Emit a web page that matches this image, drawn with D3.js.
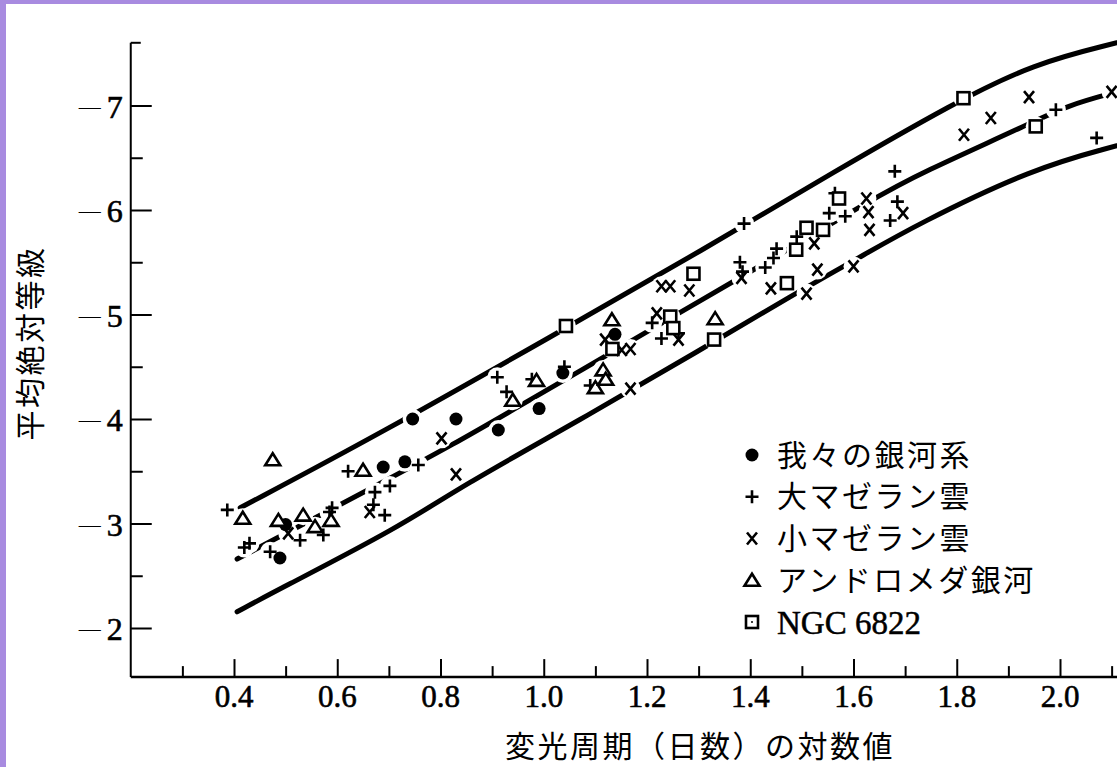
<!DOCTYPE html>
<html>
<head>
<meta charset="utf-8">
<script src="https://cdn.jsdelivr.net/npm/d3@7"></script>
<style>
  html, body { margin: 0; padding: 0; background: #fff; }
  svg { display: block; }
</style>
</head>
<body>
<div id="chart"></div>
<script>
// 변광성 주기-광도 관계 (ケフェイド)

// 축 눈금
const xMajorTicks = [0.4, 0.6, 0.8, 1.0, 1.2, 1.4, 1.6, 1.8, 2.0];
const xMinorTicks = [0.3, 0.5, 0.7, 0.9, 1.1, 1.3, 1.5, 1.7, 1.9, 2.1];
const yMajorTicks = [-2, -3, -4, -5, -6, -7];
const yMinorTicks = [-2.5, -3.5, -4.5, -5.5, -6.5];

// 관측점 [log P, M]
const milkyWay = [[0.489, -2.67], [0.50, -2.99], [0.689, -3.54], [0.731, -3.59], [0.746, -4.0],
    [0.830, -4.0], [0.912, -3.895], [0.991, -4.10], [1.037, -4.44], [1.138, -4.81]];

const lmc = [[0.387, -3.13], [0.42, -2.77], [0.43, -2.81], [0.47, -2.73], [0.528, -2.84],
    [0.573, -2.89], [0.585, -3.11], [0.59, -3.15], [0.621, -3.50], [0.670, -3.18],
    [0.673, -3.30], [0.692, -3.08], [0.702, -3.36], [0.757, -3.56], [0.910, -4.40],
    [0.928, -4.26], [0.977, -4.38], [1.04, -4.50], [1.09, -4.32], [1.21, -4.92],
    [1.228, -4.77], [1.261, -4.82], [1.38, -5.50], [1.385, -5.41], [1.388, -5.87],
    [1.429, -5.45], [1.445, -5.54], [1.451, -5.63], [1.49, -5.745], [1.553, -5.97],
    [1.564, -6.16], [1.584, -5.94], [1.671, -5.90], [1.68, -6.37], [1.685, -6.08],
    [1.992, -6.96], [2.071, -6.69]];

const smc = [[0.505, -2.906], [0.663, -3.11], [0.802, -3.815], [0.830, -3.47], [1.119, -4.76],
    [1.151, -4.66], [1.168, -4.67], [1.168, -4.29], [1.219, -5.01], [1.228, -5.27],
    [1.245, -5.27], [1.261, -4.76], [1.282, -5.23], [1.383, -5.35], [1.44, -5.25],
    [1.509, -5.20], [1.524, -5.68], [1.53, -5.43], [1.60, -5.46], [1.625, -6.11],
    [1.629, -5.98], [1.631, -5.81], [1.696, -5.97], [1.814, -6.72], [1.866, -6.88],
    [1.94, -7.08], [2.10, -7.13]];

const andromeda = [[0.417, -3.05], [0.475, -3.61], [0.486, -3.03], [0.534, -3.08], [0.557, -2.97],
    [0.588, -3.03], [0.650, -3.51], [0.940, -4.18], [0.986, -4.37], [1.10, -4.30],
    [1.115, -4.47], [1.12, -4.38], [1.132, -4.95], [1.332, -4.96]];

const ngc6822 = [[1.043, -4.89], [1.133, -4.67], [1.245, -4.98], [1.251, -4.87], [1.29, -5.39],
    [1.33, -4.76], [1.471, -5.30], [1.489, -5.62], [1.509, -5.83], [1.541, -5.81],
    [1.572, -6.11], [1.813, -7.07], [1.953, -6.80]];

// 관계 곡선 (위 / 가운데 / 아래)
const upperCurve = [[0.412, -3.15], [0.683, -3.86], [1.018, -4.80], [1.309, -5.62], [1.567, -6.38],
    [1.793, -7.02], [1.948, -7.40], [2.11, -7.60]];
const middleCurve = [[0.406, -2.66], [0.709, -3.45], [0.822, -3.75], [0.941, -4.09], [1.064, -4.44],
    [1.27, -5.04], [1.367, -5.31], [1.645, -6.13], [1.729, -6.35], [1.935, -6.81],
    [2.013, -7.0], [2.11, -7.13]];
const lowerCurve = [[0.406, -2.155], [0.483, -2.36], [0.722, -2.97], [0.838, -3.35], [1.070, -3.99],
    [1.303, -4.66], [1.483, -5.19], [1.613, -5.55], [1.722, -5.86], [1.948, -6.40], [2.11, -6.615]];

// 범례
const legendItems = [
    { key: 'dot', label: '我々の銀河系' },
    { key: 'plus', label: '大マゼラン雲' },
    { key: 'cross', label: '小マゼラン雲' },
    { key: 'tri', label: 'アンドロメダ銀河' },
    { key: 'square', label: 'NGC 6822' }
];

const xTitle = '変光周期（日数）の対数値';
const yTitle = '平均絶対等級';

const width = 1117, height = 767;
const svg = d3.select('#chart').append('svg')
    .attr('width', width)
    .attr('height', height);

// 보라색 테두리
svg.append('rect').attr('x', 0).attr('y', 0).attr('width', width).attr('height', 4).attr('fill', '#a88be0');
svg.append('rect').attr('x', 0).attr('y', 0).attr('width', 6).attr('height', height).attr('fill', '#a88be0');

const x = d3.scaleLinear().domain([0.4, 2.0]).range([234, 1060]);
const y = d3.scaleLinear().domain([-2, -7]).range([628, 105.5]);
const xStart = 0.2, yBottom = -1.53, yTop = -7.6;

const axisG = svg.append('g');

// y축
axisG.append('line')
    .attr('x1', x(xStart)).attr('x2', x(xStart))
    .attr('y1', y(yTop)).attr('y2', y(yBottom))
    .attr('stroke', '#000').attr('stroke-width', 2);
axisG.append('line')
    .attr('x1', x(xStart)).attr('x2', x(xStart) + 10)
    .attr('y1', y(yTop)).attr('y2', y(yTop))
    .attr('stroke', '#000').attr('stroke-width', 2);

// x축
axisG.append('line')
    .attr('x1', x(xStart)).attr('x2', width)
    .attr('y1', y(yBottom)).attr('y2', y(yBottom))
    .attr('stroke', '#000').attr('stroke-width', 2.5);

function styleTicks(g) {
    g.select('.domain').remove();
    g.selectAll('.tick line').attr('stroke', '#000').attr('stroke-width', 2);
}

axisG.append('g')
    .attr('transform', `translate(${x(xStart)},0)`)
    .call(d3.axisRight(y).tickValues(yMajorTicks).tickSize(21).tickFormat(''))
    .call(styleTicks);
axisG.append('g')
    .attr('transform', `translate(${x(xStart)},0)`)
    .call(d3.axisRight(y).tickValues(yMinorTicks).tickSize(12).tickFormat(''))
    .call(styleTicks);
axisG.append('g')
    .attr('transform', `translate(0,${y(yBottom)})`)
    .call(d3.axisTop(x).tickValues(xMajorTicks).tickSize(18).tickFormat(''))
    .call(styleTicks);
axisG.append('g')
    .attr('transform', `translate(0,${y(yBottom)})`)
    .call(d3.axisTop(x).tickValues(xMinorTicks).tickSize(11).tickFormat(''))
    .call(styleTicks);

// 눈금 라벨
const serif = "'Liberation Serif', 'DejaVu Serif', serif";
const cjk = "'Noto Sans CJK JP', 'Noto Sans CJK SC', sans-serif";

axisG.selectAll('.x-label')
    .data(xMajorTicks)
    .join('text')
    .attr('class', 'x-label')
    .attr('x', d => x(d))
    .attr('y', y(yBottom) + 30)
    .attr('text-anchor', 'middle')
    .attr('font-family', serif)
    .attr('font-size', 31)
    .attr('stroke', '#000')
    .attr('stroke-width', 0.6)
    .text(d => d.toFixed(1));

const yLabels = axisG.selectAll('.y-label')
    .data(yMajorTicks)
    .join('text')
    .attr('class', 'y-label')
    .attr('x', x(xStart) - 8)
    .attr('y', d => y(d) + 12)
    .attr('text-anchor', 'end')
    .attr('font-family', serif);
yLabels.append('tspan').attr('font-size', 22).attr('dy', -4).text('—');
yLabels.append('tspan').attr('font-size', 32).attr('dx', 6).attr('dy', 4)
    .attr('stroke', '#000').attr('stroke-width', 0.6)
    .text(d => Math.abs(d));

// 축 제목
svg.append('text')
    .attr('x', 505)
    .attr('y', 757)
    .attr('font-family', cjk)
    .attr('font-size', 30)
    .attr('letter-spacing', 2.5)
    .text(xTitle);

svg.append('text')
    .attr('transform', 'translate(41,343) rotate(-90)')
    .attr('text-anchor', 'middle')
    .attr('font-family', cjk)
    .attr('font-size', 30)
    .attr('letter-spacing', 2.5)
    .text(yTitle);

// 곡선
const line = d3.line()
    .x(d => x(d[0]))
    .y(d => y(d[1]))
    .curve(d3.curveBasis);

const curveG = svg.append('g');
[upperCurve, middleCurve, lowerCurve].forEach(c => {
    curveG.append('path')
        .attr('d', line(c))
        .attr('fill', 'none')
        .attr('stroke', '#000')
        .attr('stroke-width', 5)
        .attr('stroke-linecap', 'round');
});

// 마커
function drawMarker(g, key) {
    if (key === 'dot') {
        g.append('circle').attr('r', 6.5).attr('fill', '#000');
    } else if (key === 'plus') {
        g.append('path').attr('d', 'M-6.5,0H6.5M0,-6.5V6.5')
            .attr('stroke', '#000').attr('stroke-width', 2.6).attr('fill', 'none');
    } else if (key === 'cross') {
        g.append('path').attr('d', 'M-5,-6L5,6M5,-6L-5,6')
            .attr('stroke', '#000').attr('stroke-width', 2.6).attr('fill', 'none');
    } else if (key === 'tri') {
        g.append('path').attr('d', 'M0,-6.5L7.5,5.5L-7.5,5.5Z')
            .attr('stroke', '#000').attr('stroke-width', 2.6).attr('fill', '#fff')
            .attr('stroke-linejoin', 'miter');
    } else if (key === 'square') {
        g.append('rect').attr('x', -6).attr('y', -6).attr('width', 12).attr('height', 12)
            .attr('stroke', '#000').attr('stroke-width', 2.6).attr('fill', '#fff');
    }
}

const series = [
    { key: 'dot', data: milkyWay },
    { key: 'plus', data: lmc },
    { key: 'cross', data: smc },
    { key: 'tri', data: andromeda },
    { key: 'square', data: ngc6822 }
];

// 선을 끊는 흰 배경
const haloG = svg.append('g');
series.forEach(s => {
    haloG.selectAll(null)
        .data(s.data)
        .join('circle')
        .attr('cx', d => x(d[0]))
        .attr('cy', d => y(d[1]))
        .attr('r', 10)
        .attr('fill', '#fff');
});

const markG = svg.append('g');
series.forEach(s => {
    markG.selectAll(null)
        .data(s.data)
        .join('g')
        .attr('transform', d => `translate(${x(d[0])},${y(d[1])})`)
        .each(function() { drawMarker(d3.select(this), s.key); });
});

// 범례
const legend = svg.append('g').attr('transform', 'translate(752,455)');
legendItems.forEach((item, i) => {
    const row = legend.append('g').attr('transform', `translate(0,${i * 41.75})`);
    drawMarker(row, item.key);
    if (item.key === 'square') {
        row.append('circle').attr('r', 1).attr('fill', '#000');
    }
    const isLatin = item.key === 'square';
    row.append('text')
        .attr('x', 25)
        .attr('y', 0)
        .attr('dy', '0.35em')
        .attr('font-family', isLatin ? serif : cjk)
        .attr('font-size', isLatin ? 33 : 30)
        .attr('letter-spacing', isLatin ? 0 : 2.5)
        .attr('stroke', isLatin ? '#000' : 'none')
        .attr('stroke-width', 0.5)
        .text(item.label);
});
</script>
</body>
</html>
